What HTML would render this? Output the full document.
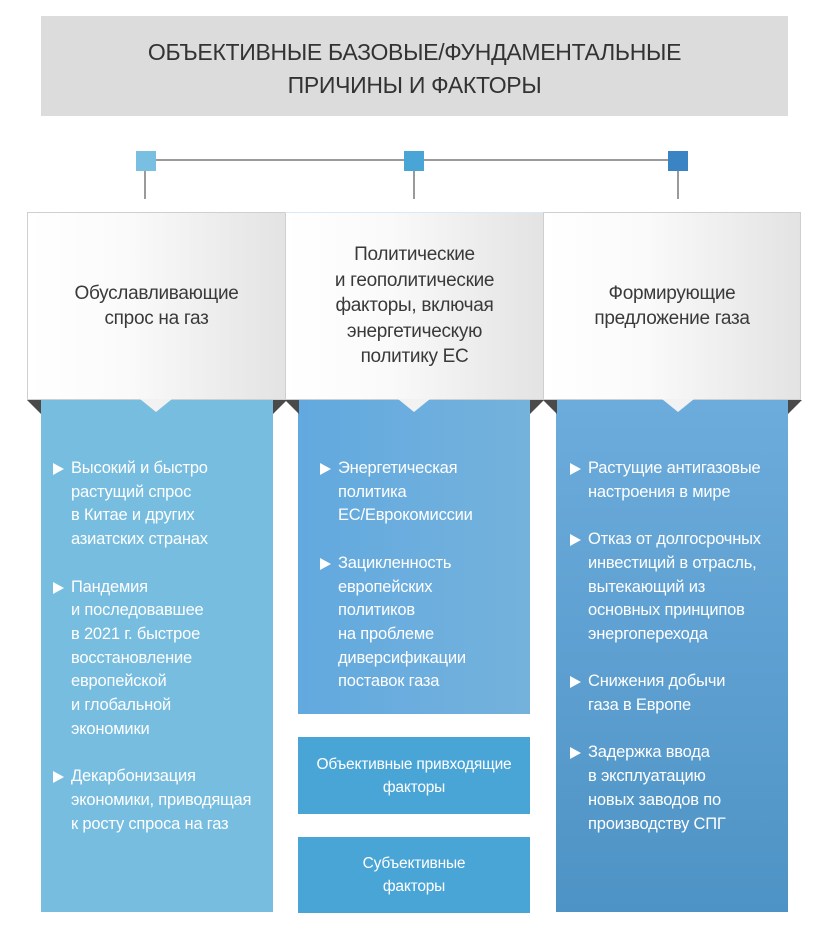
<!DOCTYPE html>
<html><head><meta charset="utf-8"><style>
body{margin:0;width:831px;height:951px;background:#fff;position:relative;overflow:hidden;font-family:"Liberation Sans",sans-serif}
.a{position:absolute}
.title{left:41px;top:16px;width:747px;height:100px;padding-top:6px;box-sizing:border-box;background:#dcdcdc;color:#333;font-size:23px;line-height:33px;text-align:center;display:flex;align-items:center;justify-content:center;letter-spacing:-0.3px}
.sq{width:20px;height:20px;top:151px}
.vl{width:2px;height:28px;top:171px;background:#9a9a9a}
.hd{top:212px;height:188px;background:linear-gradient(90deg,#fff 0%,#fafafa 40%,#e3e3e3 100%);border:1px solid #cfcfcf;box-sizing:border-box;color:#3a3a3a;font-size:19px;line-height:25.5px;text-align:center;display:flex;align-items:center;justify-content:center;letter-spacing:-0.3px}
.col{color:#fff;font-size:16.5px;line-height:23.7px;letter-spacing:-0.2px}
.col div{position:relative;padding-left:30px}
.col div:before{content:"";position:absolute;left:12px;top:6px;border-left:11px solid #fff;border-top:6px solid transparent;border-bottom:6px solid transparent}
.notch{width:0;height:0;border-left:16px solid transparent;border-right:16px solid transparent;border-top:13px solid #f2f2f2}
.fold{width:0;height:0;border-top:14px solid #4a4a4a;border-left:14px solid transparent}
.fold2{width:0;height:0;border-top:14px solid #4a4a4a;border-right:14px solid transparent}
.sb{background:#4aa5d7;color:#fff;font-size:15.5px;line-height:23px;text-align:center;display:flex;align-items:center;justify-content:center;letter-spacing:-0.2px}
</style></head><body>
<div class="a title">ОБЪЕКТИВНЫЕ БАЗОВЫЕ/ФУНДАМЕНТАЛЬНЫЕ<br>ПРИЧИНЫ И ФАКТОРЫ</div>
<div class="a" style="left:156px;top:159px;width:512px;height:2px;background:#9a9a9a"></div>
<div class="a sq" style="left:136px;background:#78bfe1"></div>
<div class="a sq" style="left:404px;background:#4aa5d7"></div>
<div class="a sq" style="left:668px;background:#3b84c4"></div>
<div class="a vl" style="left:144px"></div>
<div class="a vl" style="left:413px"></div>
<div class="a vl" style="left:677px"></div>

<div class="a" style="left:41px;top:400px;width:232px;height:512px;background:#77bde0"></div>
<div class="a" style="left:298px;top:400px;width:232px;height:314px;background:linear-gradient(90deg,#62a9df,#74b2dc)"></div>
<div class="a" style="left:556px;top:400px;width:232px;height:512px;background:linear-gradient(180deg,#6cacdc,#4e93c5)"></div>

<div class="a fold" style="left:27px;top:400px"></div>
<div class="a fold2" style="left:273px;top:400px"></div>
<div class="a fold" style="left:285px;top:400px"></div>
<div class="a fold2" style="left:530px;top:400px"></div>
<div class="a fold" style="left:543px;top:400px"></div>
<div class="a fold2" style="left:788px;top:400px"></div>

<div class="a hd" style="left:27px;width:259px">Обуславливающие<br>спрос на газ</div>
<div class="a hd" style="left:285px;width:259px;border-top-color:#dbe9f5">Политические<br>и геополитические<br>факторы, включая<br>энергетическую<br>политику ЕС</div>
<div class="a hd" style="left:543px;width:258px">Формирующие<br>предложение газа</div>
<div class="a notch" style="left:140px;top:399px"></div>
<div class="a notch" style="left:398px;top:399px"></div>
<div class="a notch" style="left:662px;top:399px"></div>

<div class="a col" style="left:41px;top:457px;width:232px">
<div>Высокий и быстро<br>растущий спрос<br>в Китае и других<br>азиатских странах</div><br>
<div>Пандемия<br>и последовавшее<br>в 2021 г. быстрое<br>восстановление<br>европейской<br>и глобальной<br>экономики</div><br>
<div>Декарбонизация<br>экономики, приводящая<br>к росту спроса на газ</div></div>
<div class="a col" style="left:308px;top:457px;width:222px">
<div>Энергетическая<br>политика<br>ЕС/Еврокомиссии</div><br>
<div>Зацикленность<br>европейских<br>политиков<br>на проблеме<br>диверсификации<br>поставок газа</div></div>
<div class="a col" style="left:558px;top:457px;width:230px">
<div>Растущие антигазовые<br>настроения в мире</div><br>
<div>Отказ от долгосрочных<br>инвестиций в отрасль,<br>вытекающий из<br>основных принципов<br>энергоперехода</div><br>
<div>Снижения добычи<br>газа в Европе</div><br>
<div>Задержка ввода<br>в эксплуатацию<br>новых заводов по<br>производству СПГ</div></div>

<div class="a sb" style="left:298px;top:737px;width:232px;height:77px">Объективные привходящие<br>факторы</div>
<div class="a sb" style="left:298px;top:837px;width:232px;height:76px">Субъективные<br>факторы</div>
</body></html>
